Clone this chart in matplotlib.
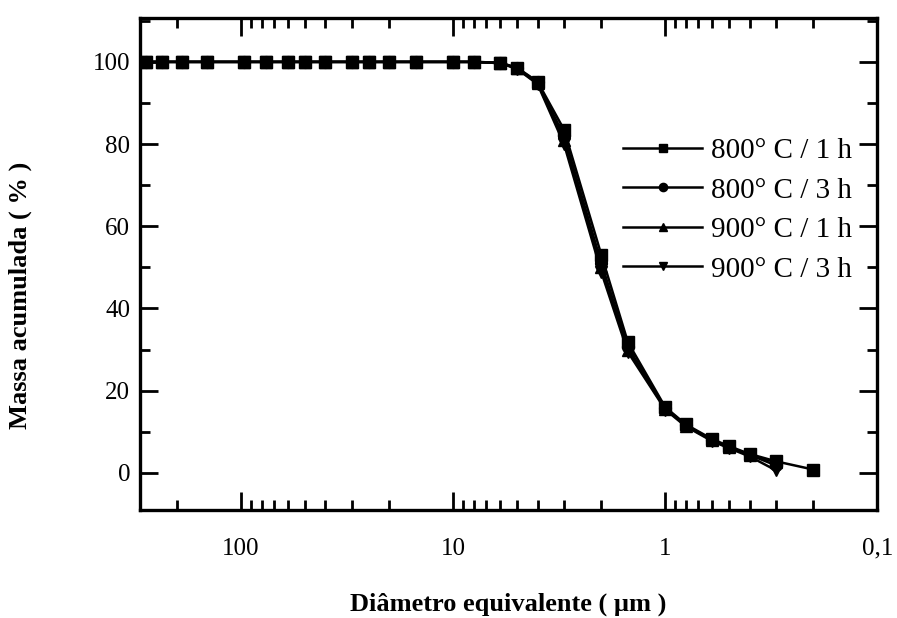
import numpy as np
import matplotlib
matplotlib.use("Agg")
import matplotlib.pyplot as plt
from matplotlib.ticker import LogLocator, FixedLocator, MultipleLocator, NullFormatter

# particle size (um) and cumulative mass (%)
diam = [280, 235, 190, 145, 97, 76, 60, 50, 40, 30, 25, 20, 15, 10, 8, 6, 5, 4, 3, 2, 1.5, 1, 0.8, 0.6, 0.5, 0.4, 0.3, 0.2]

m800_1h = [100, 100, 100, 100, 100, 100, 100, 100, 100, 100, 100, 100, 100, 100, 100, 99.8, 98.6, 95.2, 83.5, 53.0, 31.8, 16.0, 11.8, 8.2, 6.5, 4.6, 2.8, 0.8]
m800_3h = [100, 100, 100, 100, 100, 100, 100, 100, 100, 100, 100, 100, 100, 100, 100, 99.8, 98.5, 95.0, 82.0, 51.0, 30.6, 15.8, 11.6, 8.0, 6.3, 4.4, 1.8]
m900_1h = [100, 100, 100, 100, 100, 100, 100, 100, 100, 100, 100, 100, 100, 100, 100, 99.7, 98.4, 94.8, 81.0, 50.0, 30.0, 15.6, 11.5, 7.9, 6.2, 4.3, 2.6]
m900_3h = [100, 100, 100, 100, 100, 100, 100, 100, 100, 100, 100, 100, 100, 100, 100, 99.7, 98.3, 94.6, 80.0, 48.8, 29.4, 15.4, 11.3, 7.7, 6.0, 4.0, 0.6]

series = [
    ("800\u00b0 C / 1 h", m800_1h, "s"),
    ("800\u00b0 C / 3 h", m800_3h, "o"),
    ("900\u00b0 C / 1 h", m900_1h, "^"),
    ("900\u00b0 C / 3 h", m900_3h, "v"),
]

plt.rcParams["font.family"] = ["Liberation Serif", "DejaVu Serif"]

fig = plt.figure(figsize=(8.97, 6.18), dpi=100)
ax = fig.add_axes([0.156, 0.175, 0.822, 0.796])

for label, vals, mk in series:
    ax.plot(diam[:len(vals)], vals, color="black", lw=1.8, marker=mk,
            markersize=8.5, markerfacecolor="black", markeredgecolor="black",
            label=label)

ax.set_xscale("log")
ax.set_xlim(300, 0.1)
ax.set_ylim(-9, 110.7)

ax.xaxis.set_major_locator(FixedLocator([100, 10, 1, 0.1]))
ax.xaxis.set_minor_locator(LogLocator(base=10, subs=np.arange(2, 10)))
ax.xaxis.set_minor_formatter(NullFormatter())
ax.set_xticklabels(["100", "10", "1", "0,1"])
ax.yaxis.set_major_locator(MultipleLocator(20))
ax.yaxis.set_minor_locator(MultipleLocator(10))
ax.set_ylim(-9, 110.7)

ax.tick_params(which="both", direction="in", top=True, right=True, width=2, labelsize=18)
ax.tick_params(which="major", length=13)
ax.tick_params(which="minor", length=7)
ax.tick_params(axis="x", pad=20)
ax.tick_params(axis="y", pad=7)
for sp in ax.spines.values():
    sp.set_linewidth(2.4)

ax.set_xlabel("Di\u00e2metro equivalente ( \u00b5m )", fontsize=19, fontweight="bold", labelpad=24)
ax.set_ylabel("Massa acumulada ( % )", fontsize=19, fontweight="bold")
ax.yaxis.set_label_coords(-0.146, 0.437)

leg = ax.legend(loc="upper left", bbox_to_anchor=(0.62, 0.81), frameon=False,
                fontsize=21, handlelength=2.7, markerscale=0.7,
                labelspacing=0.45, handletextpad=0.3)

plt.savefig("out.png", dpi=100)
plt.close()
